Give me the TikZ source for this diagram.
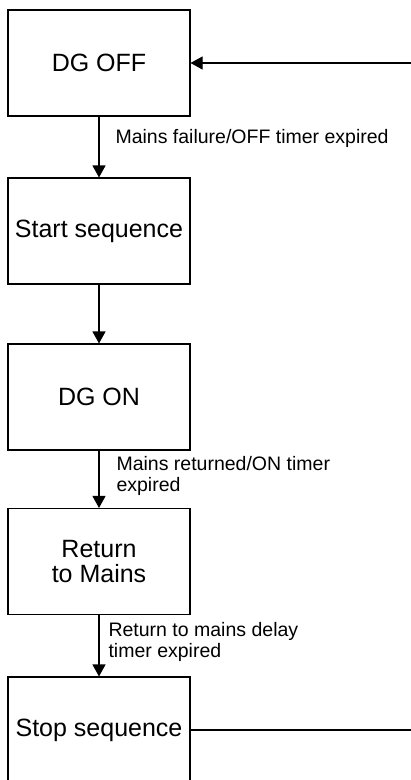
\documentclass[tikz,border=0pt]{standalone}
\usepackage{fontspec}
\setmainfont{Liberation Sans}
\usetikzlibrary{arrows.meta}

\begin{document}
\begin{tikzpicture}[x=1pt,y=-1pt,line width=1.1pt,state/.style={draw,align=center,minimum width=182pt,minimum height=106pt,inner sep=2pt,font=\fontsize{25}{25}\selectfont},note/.style={anchor=west,align=left,inner sep=0pt,font=\fontsize{19.5}{21.5}\selectfont},flow/.style={-{Triangle[width=13pt,length=12pt]}}]
\useasboundingbox (0,0) rectangle (411,780);
\node[state] (off) at (99,63){DG OFF};
\node[state] (start) at (99,231){Start sequence};
\node[state] (on) at (99,397){DG ON};
\node[state] (ret) at (99,561.5){Return\\to Mains};
\node[state] (stop) at (99,730){Stop sequence};
\node[note] (failure) at (115,138){Mains failure/OFF timer expired};
\node[note] (returned) at (116,476){Mains returned/ON timer\\expired};
\node[note] (delay) at (108,642){Return to mains delay\\timer expired};
\draw[flow] (off) -- (start);
\draw[flow] (start) -- (on);
\draw[flow] (on) -- (ret);
\draw[flow] (ret) -- (stop);
\draw[flow] (stop.east) -- (413,730) |- (off.east);
\end{tikzpicture}
\end{document}
